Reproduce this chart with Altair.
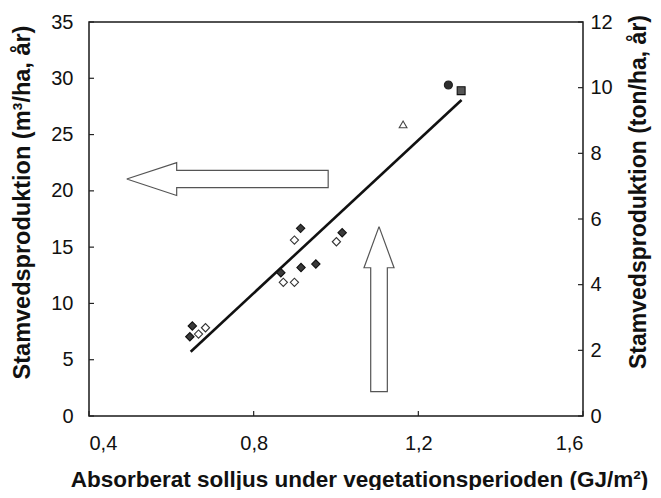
import altair as alt
import pandas as pd

# --- data ---
filled_x = [0.651, 0.645, 0.866, 0.915, 0.951, 0.914, 1.015]
filled_y = [8.0, 7.04, 12.73, 13.19, 13.5, 16.67, 16.28]
open_x = [0.666, 0.683, 0.872, 0.899, 0.899, 1.001]
open_y = [7.28, 7.84, 11.88, 11.88, 15.63, 15.48]
circle_x, circle_y = [1.273], [29.4]
square_x, square_y = [1.304], [28.9]
tri_x, tri_y = [1.163], [25.9]

fit_x = [0.647, 1.305]
fit_y = [5.71, 28.07]

# arrow outlines (data units)
left_arrow_x = [0.4916, 0.613, 0.613, 0.981, 0.981, 0.613, 0.613, 0.4916]
left_arrow_y = [21.05, 22.51, 21.82, 21.82, 20.28, 20.28, 19.59, 21.05]
up_arrow_x = [1.1045, 1.141, 1.1247, 1.1247, 1.0843, 1.0843, 1.068, 1.1045]
up_arrow_y = [16.82, 13.17, 13.17, 2.16, 2.16, 13.17, 13.17, 16.82]

x_ticks = [0.4, 0.8, 1.2, 1.6]
y_ticks = [0, 5, 10, 15, 20, 25, 30, 35]
yr_ticks = [0, 2, 4, 6, 8, 10, 12]

x_title = "Absorberat solljus under vegetationsperioden (GJ/m²)"
y_title = "Stamvedsproduktion (m³/ha, år)"
yr_title = "Stamvedsproduktion (ton/ha, år)"

# --- tables ---
kinds = (["fd"] * len(filled_x) + ["od"] * len(open_x) + ["ci"] + ["sq"] + ["tr"])
pts = pd.DataFrame({
    "x": filled_x + open_x + circle_x + square_x + tri_x,
    "y": filled_y + open_y + circle_y + square_y + tri_y,
    "kind": kinds,
})
fit = pd.DataFrame({"x": fit_x, "y": fit_y})
arrows = pd.DataFrame({
    "x": left_arrow_x + up_arrow_x,
    "y": left_arrow_y + up_arrow_y,
    "arrow": ["left"] * len(left_arrow_x) + ["up"] * len(up_arrow_x),
    "i": list(range(len(left_arrow_x))) + list(range(len(up_arrow_x))),
})
yt = pd.DataFrame({"y": y_ticks})
xt = pd.DataFrame({"x": x_ticks})
yrt = pd.DataFrame({"yr": yr_ticks})

FONT = "Liberation Sans"
W, H = 494, 394

xscale = alt.Scale(domain=[0.4, 1.6], nice=False, zero=False)
yscale = alt.Scale(domain=[0, 35], nice=False)
yrscale = alt.Scale(domain=[0, 12], nice=False)

xaxis = alt.Axis(
    values=x_ticks, tickSize=0, domain=False, grid=False,
    labelExpr="replace(format(datum.value, '.1f'), '.', ',')",
    labelFont=FONT, labelFontSize=20, labelColor="#111", labelPadding=17,
    title=x_title, titleFont=FONT, titleFontSize=22.5, titleFontWeight="bold",
    titleColor="#111", titleX=270, titleY=70, titleAlign="center",
    titleBaseline="alphabetic", titleAnchor="middle",
)
yaxis = alt.Axis(
    values=y_ticks, tickSize=0, domain=False, grid=False,
    labelFont=FONT, labelFontSize=20, labelColor="#111", labelPadding=16,
    title=y_title, titleFont=FONT, titleFontSize=23.5, titleFontWeight="bold",
    titleColor="#111", titleX=-59.5, titleY=180, titleAngle=270,
    titleAlign="center", titleBaseline="alphabetic",
)
yraxis = alt.Axis(
    orient="right", values=yr_ticks, tickSize=0, domain=False, grid=False,
    labelFont=FONT, labelFontSize=20, labelColor="#111", labelPadding=7,
    title=yr_title, titleFont=FONT, titleFontSize=23, titleFontWeight="bold",
    titleColor="#111", titleX=62, titleY=169.5, titleAngle=270,
    titleAlign="center", titleBaseline="alphabetic",
)

X = alt.X("x:Q", scale=xscale, axis=xaxis)
Y = alt.Y("y:Q", scale=yscale, axis=yaxis)

arrow_layer = alt.Chart(arrows).mark_line(
    color="#555", strokeWidth=1.2, strokeJoin="miter"
).encode(x=X, y=Y, detail="arrow:N", order="i:Q")

fit_layer = alt.Chart(fit).mark_line(color="#111", strokeWidth=2.6).encode(x=X, y=Y)

point_layer = alt.Chart(pts).mark_point(filled=False, opacity=1, strokeWidth=1.1).encode(
    x=X, y=Y,
    shape=alt.Shape("kind:N", legend=None, scale=alt.Scale(
        domain=["fd", "od", "ci", "sq", "tr"],
        range=["diamond", "diamond", "circle", "square", "triangle-up"])),
    fill=alt.Fill("kind:N", legend=None, scale=alt.Scale(
        domain=["fd", "od", "ci", "sq", "tr"],
        range=["#3a3a3a", "#ffffff", "#2e2e2e", "#555555", "#ffffff"])),
    stroke=alt.Stroke("kind:N", legend=None, scale=alt.Scale(
        domain=["fd", "od", "ci", "sq", "tr"],
        range=["#111111", "#333333", "#222222", "#111111", "#444444"])),
    size=alt.Size("kind:N", legend=None, scale=alt.Scale(
        domain=["fd", "od", "ci", "sq", "tr"],
        range=[70, 60, 50, 70, 55])),
)

ytick_layer = alt.Chart(yt).mark_rule(color="#222", strokeWidth=1.2).encode(
    y=Y, x=alt.value(0), x2=alt.value(5))
xtick_layer = alt.Chart(xt).mark_rule(color="#222", strokeWidth=1.2).encode(
    x=X, y=alt.value(H), y2=alt.value(H - 5))

left = alt.layer(arrow_layer, fit_layer, ytick_layer, xtick_layer, point_layer)

right = alt.Chart(yrt).mark_rule(color="#222", strokeWidth=1.2).encode(
    y=alt.Y("yr:Q", scale=yrscale, axis=yraxis),
    x=alt.value(W - 5), x2=alt.value(W),
)

chart = alt.layer(left, right).resolve_scale(y="independent").properties(
    width=W, height=H,
    autosize=alt.AutoSizeParams(type="none"),
    padding={"left": 81, "top": 14, "right": 70, "bottom": 74},
    background="white",
).configure_view(stroke="#1a1a1a", strokeWidth=1.5)

chart.save("out.html", embed_options={"renderer": "svg", "actions": False})
